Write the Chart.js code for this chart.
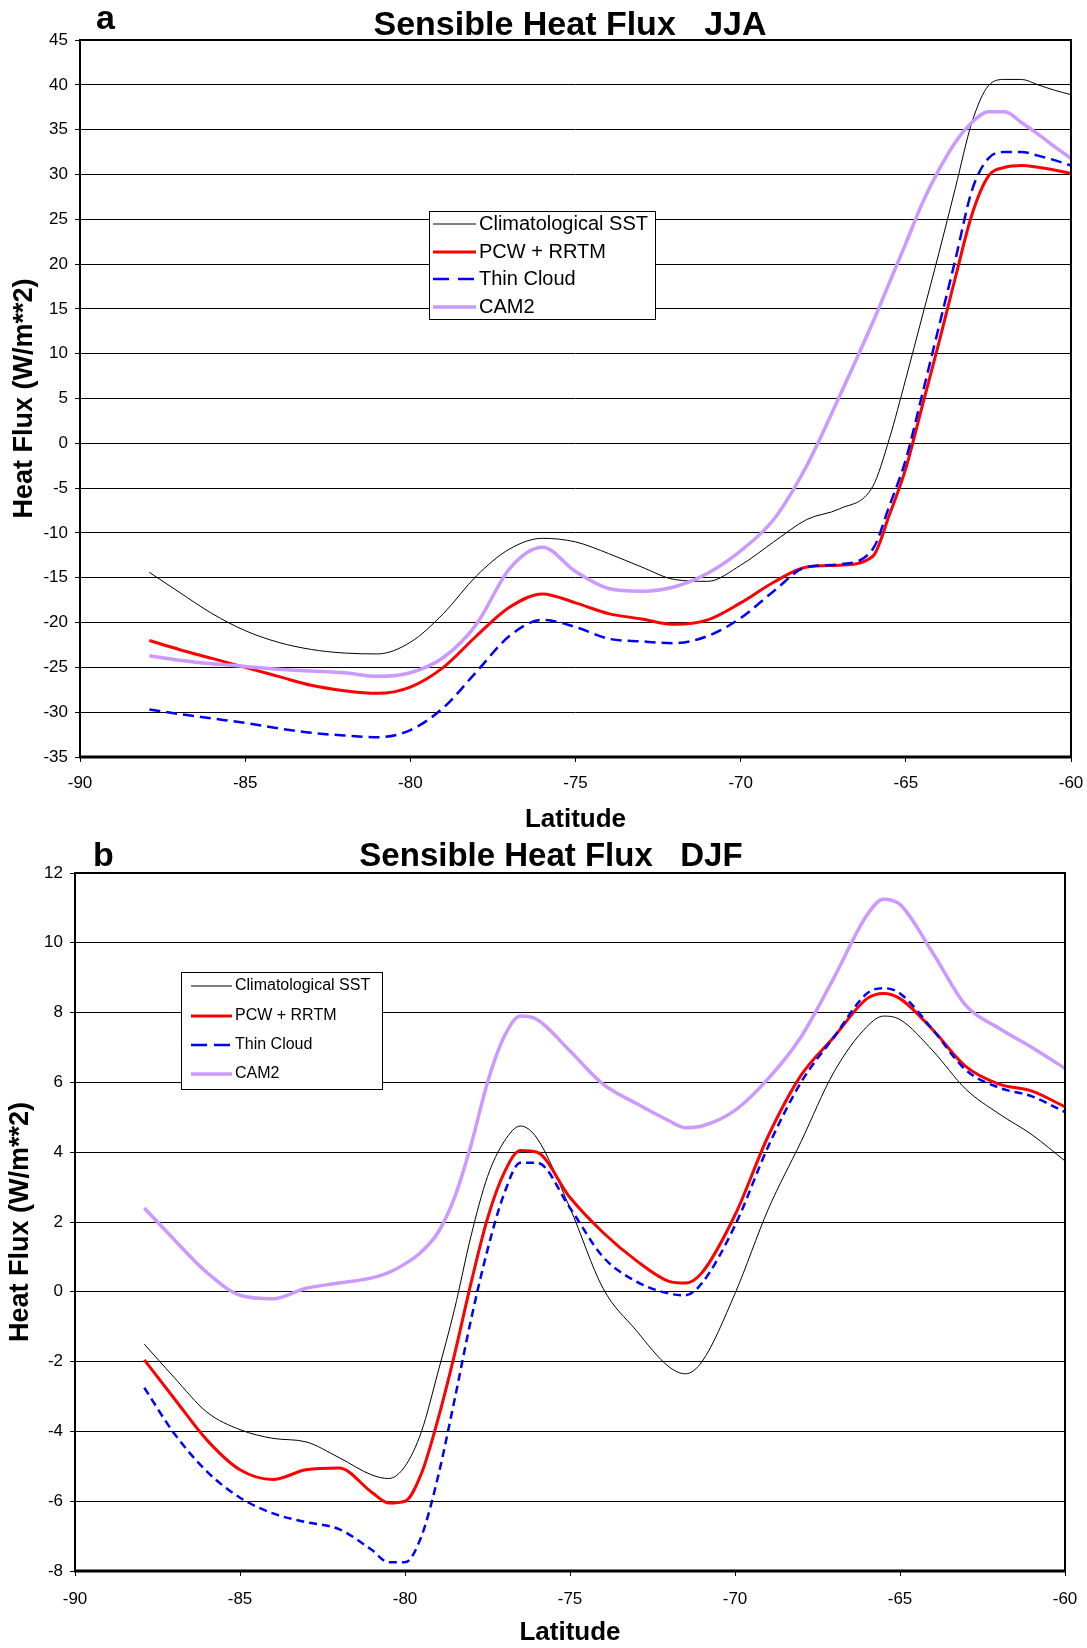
<!DOCTYPE html>
<html>
<head>
<meta charset="utf-8">
<script src="https://cdn.jsdelivr.net/npm/chart.js@4.4.1/dist/chart.umd.min.js"></script>
<style>
  html, body { margin: 0; padding: 0; background: #fff; }
  body { width: 1087px; height: 1648px; position: relative; overflow: hidden; font-family: "Liberation Sans", Arial, sans-serif; }
  .panel { position: absolute; left: 0; width: 1087px; }
  .panel canvas { display: block; }
  .lbl { position: absolute; font-weight: bold; line-height: 1; white-space: pre; color: #000; }
</style>
</head>
<body>
<div class="panel" style="top:0;height:840px"><canvas id="jja" width="1087" height="840"></canvas></div>
<div class="panel" style="top:840px;height:808px"><canvas id="djf" width="1087" height="808"></canvas></div>
<div class="lbl" style="left:96px;top:0px;font-size:34px">a</div>
<div class="lbl" style="left:270px;top:6px;width:600px;text-align:center;font-size:34px">Sensible Heat Flux   JJA</div>
<div class="lbl" style="left:93px;top:837px;font-size:34px">b</div>
<div class="lbl" style="left:251px;top:838px;width:600px;text-align:center;font-size:33px">Sensible Heat Flux   DJF</div>
<script>
const seriesNames = ['Climatological SST', 'PCW + RRTM', 'Thin Cloud', 'CAM2'];

// JJA panel
const latJJA = [-87.9, -87, -86, -85, -84, -83, -82, -81, -80, -79, -78, -77, -76, -75, -74, -73, -72, -71, -70, -69, -68, -67, -66, -65.5, -65, -64.5, -64, -63.5, -63, -62.5, -62, -61.5, -61, -60.5, -60];
const climJJA = [-14.4, -16.6, -19.0, -20.9, -22.2, -23.0, -23.4, -23.5, -22.2, -19.0, -14.8, -11.8, -10.6, -11.0, -12.3, -13.8, -15.2, -15.4, -13.6, -11.0, -8.5, -7.3, -4.8, 0.5, 7.2, 14.2, 21.2, 28.5, 35.8, 39.9, 40.6, 40.6, 40.0, 39.4, 38.9];
const pcwJJA = [-22.0, -23.0, -24.0, -25.0, -26.0, -27.0, -27.6, -27.9, -27.2, -25.0, -21.5, -18.3, -16.8, -17.8, -19.0, -19.6, -20.2, -19.7, -17.8, -15.5, -13.8, -13.6, -12.6, -8.0, -2.8, 4.2, 11.2, 18.5, 25.5, 29.8, 30.8, 31.0, 30.8, 30.5, 30.1];
const thinJJA = [-29.7, -30.2, -30.7, -31.2, -31.8, -32.3, -32.6, -32.8, -32.0, -29.5, -25.5, -21.5, -19.7, -20.5, -21.8, -22.1, -22.3, -21.5, -19.5, -16.5, -13.8, -13.5, -11.8, -7.0, -1.8, 5.5, 13.0, 20.5, 28.2, 31.8, 32.5, 32.5, 32.1, 31.6, 31.0];
const camJJA = [-23.7, -24.2, -24.6, -24.9, -25.2, -25.4, -25.6, -26.0, -25.6, -23.9, -20.2, -14.0, -11.6, -14.3, -16.2, -16.5, -16.0, -14.5, -12.0, -8.5, -2.5, 5.3, 13.5, 17.9, 22.3, 26.8, 30.5, 33.6, 35.8, 37.0, 37.0, 35.8, 34.5, 33.1, 31.8];

// DJF panel
const latDJF = [-87.9, -87, -86, -85, -84, -83, -82, -81, -80.5, -80, -79.5, -79, -78.5, -78, -77.5, -77, -76.5, -76, -75, -74, -73, -72, -71.5, -71, -70, -69, -68, -67, -66, -65.5, -65, -64, -63, -62, -61, -60];
const climDJF = [-1.5, -2.45, -3.45, -3.95, -4.2, -4.3, -4.75, -5.25, -5.35, -5.0, -4.0, -2.3, -0.5, 1.6, 3.3, 4.3, 4.75, 4.4, 2.4, 0.1, -1.1, -2.15, -2.35, -2.0, -0.05, 2.35, 4.3, 6.3, 7.6, 7.9, 7.8, 6.9, 5.8, 5.1, 4.5, 3.75];
const pcwDJF = [-1.95, -3.05, -4.25, -5.1, -5.38, -5.1, -5.05, -5.75, -6.05, -6.0, -5.2, -3.65, -1.8, 0.25, 2.1, 3.4, 4.05, 4.0, 2.7, 1.7, 0.9, 0.3, 0.25, 0.55, 2.2, 4.45, 6.2, 7.3, 8.4, 8.55, 8.4, 7.5, 6.45, 5.95, 5.75, 5.3];
const thinDJF = [-2.75, -4.05, -5.15, -5.9, -6.35, -6.6, -6.8, -7.4, -7.75, -7.75, -7.0, -5.3, -3.1, -0.8, 1.2, 2.8, 3.7, 3.7, 2.4, 1.0, 0.3, -0.05, -0.1, 0.25, 1.9, 4.15, 6.0, 7.3, 8.55, 8.7, 8.55, 7.5, 6.35, 5.85, 5.6, 5.15];
const camDJF = [2.4, 1.5, 0.55, -0.1, -0.2, 0.1, 0.25, 0.4, 0.55, 0.8, 1.15, 1.7, 2.7, 4.2, 6.0, 7.3, 7.9, 7.8, 6.9, 5.95, 5.4, 4.9, 4.7, 4.75, 5.2, 6.1, 7.3, 9.0, 10.8, 11.25, 11.1, 9.7, 8.2, 7.55, 7.0, 6.4];

const lineColors = ['#000000', '#ff0000', '#0000ff', '#cc99ff'];
const FONT = '"Liberation Sans", Arial, sans-serif';
Chart.defaults.font.family = FONT;
Chart.defaults.color = '#000';

// plot frame: thin box round the chart area, heavier base line
const frame = {
  id: 'frame',
  afterDatasetsDraw(chart) {
    const {ctx, chartArea: a} = chart;
    ctx.save();
    ctx.strokeStyle = '#000';
    ctx.lineWidth = 2;
    ctx.strokeRect(a.left, a.top, a.right - a.left, a.bottom - a.top);
    ctx.lineWidth = 3;
    ctx.beginPath();
    ctx.moveTo(a.left - 1, a.bottom);
    ctx.lineTo(a.right + 1, a.bottom);
    ctx.stroke();
    ctx.restore();
  }
};

// boxed legend sitting inside the plot
const boxLegend = {
  id: 'boxLegend',
  afterDraw(chart, args, o) {
    const ctx = chart.ctx;
    ctx.save();
    ctx.fillStyle = '#fff';
    ctx.fillRect(o.x, o.y, o.w, o.h);
    ctx.strokeStyle = '#000';
    ctx.lineWidth = 1;
    ctx.strokeRect(o.x + 0.5, o.y + 0.5, o.w, o.h);
    chart.data.datasets.forEach((ds, i) => {
      const y = o.rows[i];
      ctx.beginPath();
      ctx.strokeStyle = ds.borderColor;
      ctx.lineWidth = ds.borderWidth;
      ctx.setLineDash(i === 2 ? o.dash : []);
      ctx.moveTo(o.x0, y);
      ctx.lineTo(o.x1, y);
      ctx.stroke();
      ctx.setLineDash([]);
      ctx.fillStyle = '#000';
      ctx.font = o.size + 'px ' + FONT;
      ctx.textBaseline = 'middle';
      ctx.fillText(ds.label, o.tx, y);
    });
    ctx.restore();
  }
};

function makeChart(id, lat, series, cfg) {
  const datasets = seriesNames.map((name, i) => ({
    label: name,
    data: lat.map((x, k) => ({x: x, y: series[i][k]})),
    borderColor: lineColors[i],
    borderWidth: cfg.widths[i],
    borderDash: i === 2 ? cfg.dash : [],
    pointRadius: 0,
    cubicInterpolationMode: 'monotone',
    fill: false
  }));
  // draw CAM2 first so the others sit on top of it
  const order = [3, 2, 1, 0];
  datasets.forEach((d, i) => { d.order = order[i]; });

  return new Chart(document.getElementById(id), {
    type: 'line',
    data: {datasets},
    options: {
      responsive: false,
      animation: false,
      devicePixelRatio: 1,
      layout: {padding: cfg.pad},
      plugins: {legend: {display: false}, tooltip: {enabled: false}, boxLegend: cfg.legend},
      scales: {
        x: {
          type: 'linear', min: -90, max: -60,
          ticks: {stepSize: 5, autoSkip: false, maxRotation: 0, padding: cfg.xTickPad, color: '#000', font: {size: 17}},
          grid: {drawOnChartArea: false, drawTicks: true, tickLength: 5, tickColor: '#000', tickWidth: 1},
          border: {display: false},
          title: {display: true, text: 'Latitude', color: '#000', font: {size: 26, weight: 'bold'}, padding: {top: 0, bottom: cfg.xTitlePad}},
          afterFit: s => { s.height = cfg.xHeight; s.paddingLeft = 0; s.paddingRight = 0; }
        },
        y: {
          min: cfg.yMin, max: cfg.yMax,
          ticks: {stepSize: cfg.yStep, padding: 7, color: '#000', font: {size: 17}},
          grid: {color: '#000', lineWidth: 1, tickLength: 5, tickColor: '#000'},
          border: {display: false},
          title: {display: true, text: 'Heat Flux (W/m**2)', color: '#000', font: {size: 27, weight: 'bold'}, padding: {top: cfg.yTitlePad, bottom: 0}},
          afterFit: s => { s.width = cfg.yWidth; s.paddingTop = 0; s.paddingBottom = 0; }
        }
      }
    },
    plugins: [frame, boxLegend]
  });
}

makeChart('jja', latJJA, [climJJA, pcwJJA, thinJJA, camJJA], {
  widths: [1, 3, 2.5, 3.5], dash: [11, 6],
  pad: {top: 40, right: 16, bottom: 0, left: 0},
  xHeight: 83, yWidth: 80, xTickPad: 11, xTitlePad: 5, yTitlePad: 8,
  yMin: -35, yMax: 45, yStep: 5,
  legend: {x: 429, y: 211, w: 226, h: 108, rows: [224, 252, 279, 307], x0: 433, x1: 476, tx: 479, size: 20, dash: [16, 9]}
});

makeChart('djf', latDJF, [climDJF, pcwDJF, thinDJF, camDJF], {
  widths: [1, 3, 2.5, 3.5], dash: [8, 5],
  pad: {top: 33, right: 22, bottom: 0, left: 0},
  xHeight: 77, yWidth: 75, xTickPad: 13, xTitlePad: 0, yTitlePad: 4,
  yMin: -8, yMax: 12, yStep: 2,
  legend: {x: 181, y: 132, w: 201, h: 117, rows: [146, 176, 205, 234], x0: 191, x1: 232, tx: 235, size: 16, dash: [16, 7]}
});
</script>
</body>
</html>
